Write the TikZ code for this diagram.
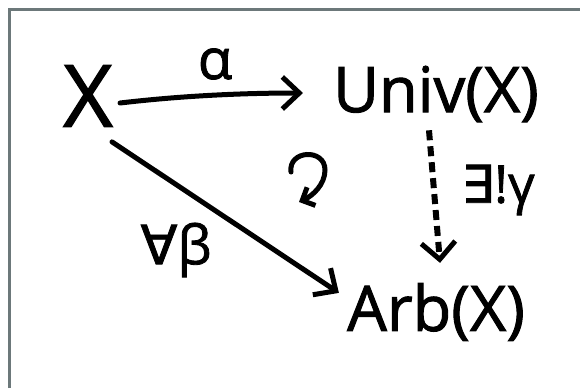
\documentclass[tikz,border=0pt]{standalone}
\usepackage{fontspec}
\setmainfont{Open Sans}[FakeBold=1.5]
\newfontfamily\hand{Open Sans}[FakeBold=1.5]
\newfontfamily\symfont{DejaVu Sans}[FakeBold=1.5]
\usetikzlibrary{arrows.meta}
\definecolor{framegrey}{RGB}{108,120,122}
\tikzset{
  obj/.style={inner sep=0pt, font=\hand\fontsize{63}{70}\selectfont},
  bigobj/.style={inner sep=0pt, font=\hand\fontsize{86}{90}\selectfont},
  lab/.style={inner sep=0pt, font=\hand\fontsize{52}{56}\selectfont},
  arr/.style={line width=5pt, line cap=round, -{Straight Barb[length=17pt,width=32pt,line width=5pt]}},
  dasharr/.style={line width=6pt, dash pattern=on 10pt off 6pt, -{Straight Barb[length=17pt,width=34pt,line width=5pt]}},
}
\begin{document}
\begin{tikzpicture}[x=1pt,y=-1pt]
\useasboundingbox (0,0) rectangle (580,388);
\fill[white] (0,0) rectangle (580,388);
\draw[framegrey, line width=3.5pt] (9.5,388) -- (9.5,9.5) -- (580,9.5);

\node[bigobj] (nX) at (88,96) {X};
\node[obj] (nU) at (436,94) {Univ(X)};
\node[obj] (nA) at (436,312) {Arb(X)};

\node[lab, font=\hand\fontsize{56}{60}\selectfont] (nalpha) at (215,64) {α};
\node[lab] (ngamma) at (498,190) {{\symfont ∃}!γ};
\node[lab, font=\hand\fontsize{54}{58}\selectfont] (nbeta) at (176,250) {{\symfont ∀}β};

\draw[arr] ([shift={(7,7)}]nX.east) .. controls (180,96) and (240,93) .. ([shift={(-30,-1)}]nU.west);
\draw[arr] ([shift={(-1,15)}]nX.south east) -- ([shift={(-8,10)}]nA.north west);
\draw[dasharr] ([shift={(-7,8)}]nU.south) -- ([shift={(4,-20)}]nA.north);

\coordinate (cstart) at (291,172);
\coordinate (cend) at (299,202);
\draw[line width=5pt, line cap=round, -{Straight Barb[length=10pt,width=20pt,line width=5pt]}]
  (cstart) .. controls (288,150) and (325,148) .. (325,170) .. controls (325,185) and (312,196) .. (cend);
\end{tikzpicture}
\end{document}
